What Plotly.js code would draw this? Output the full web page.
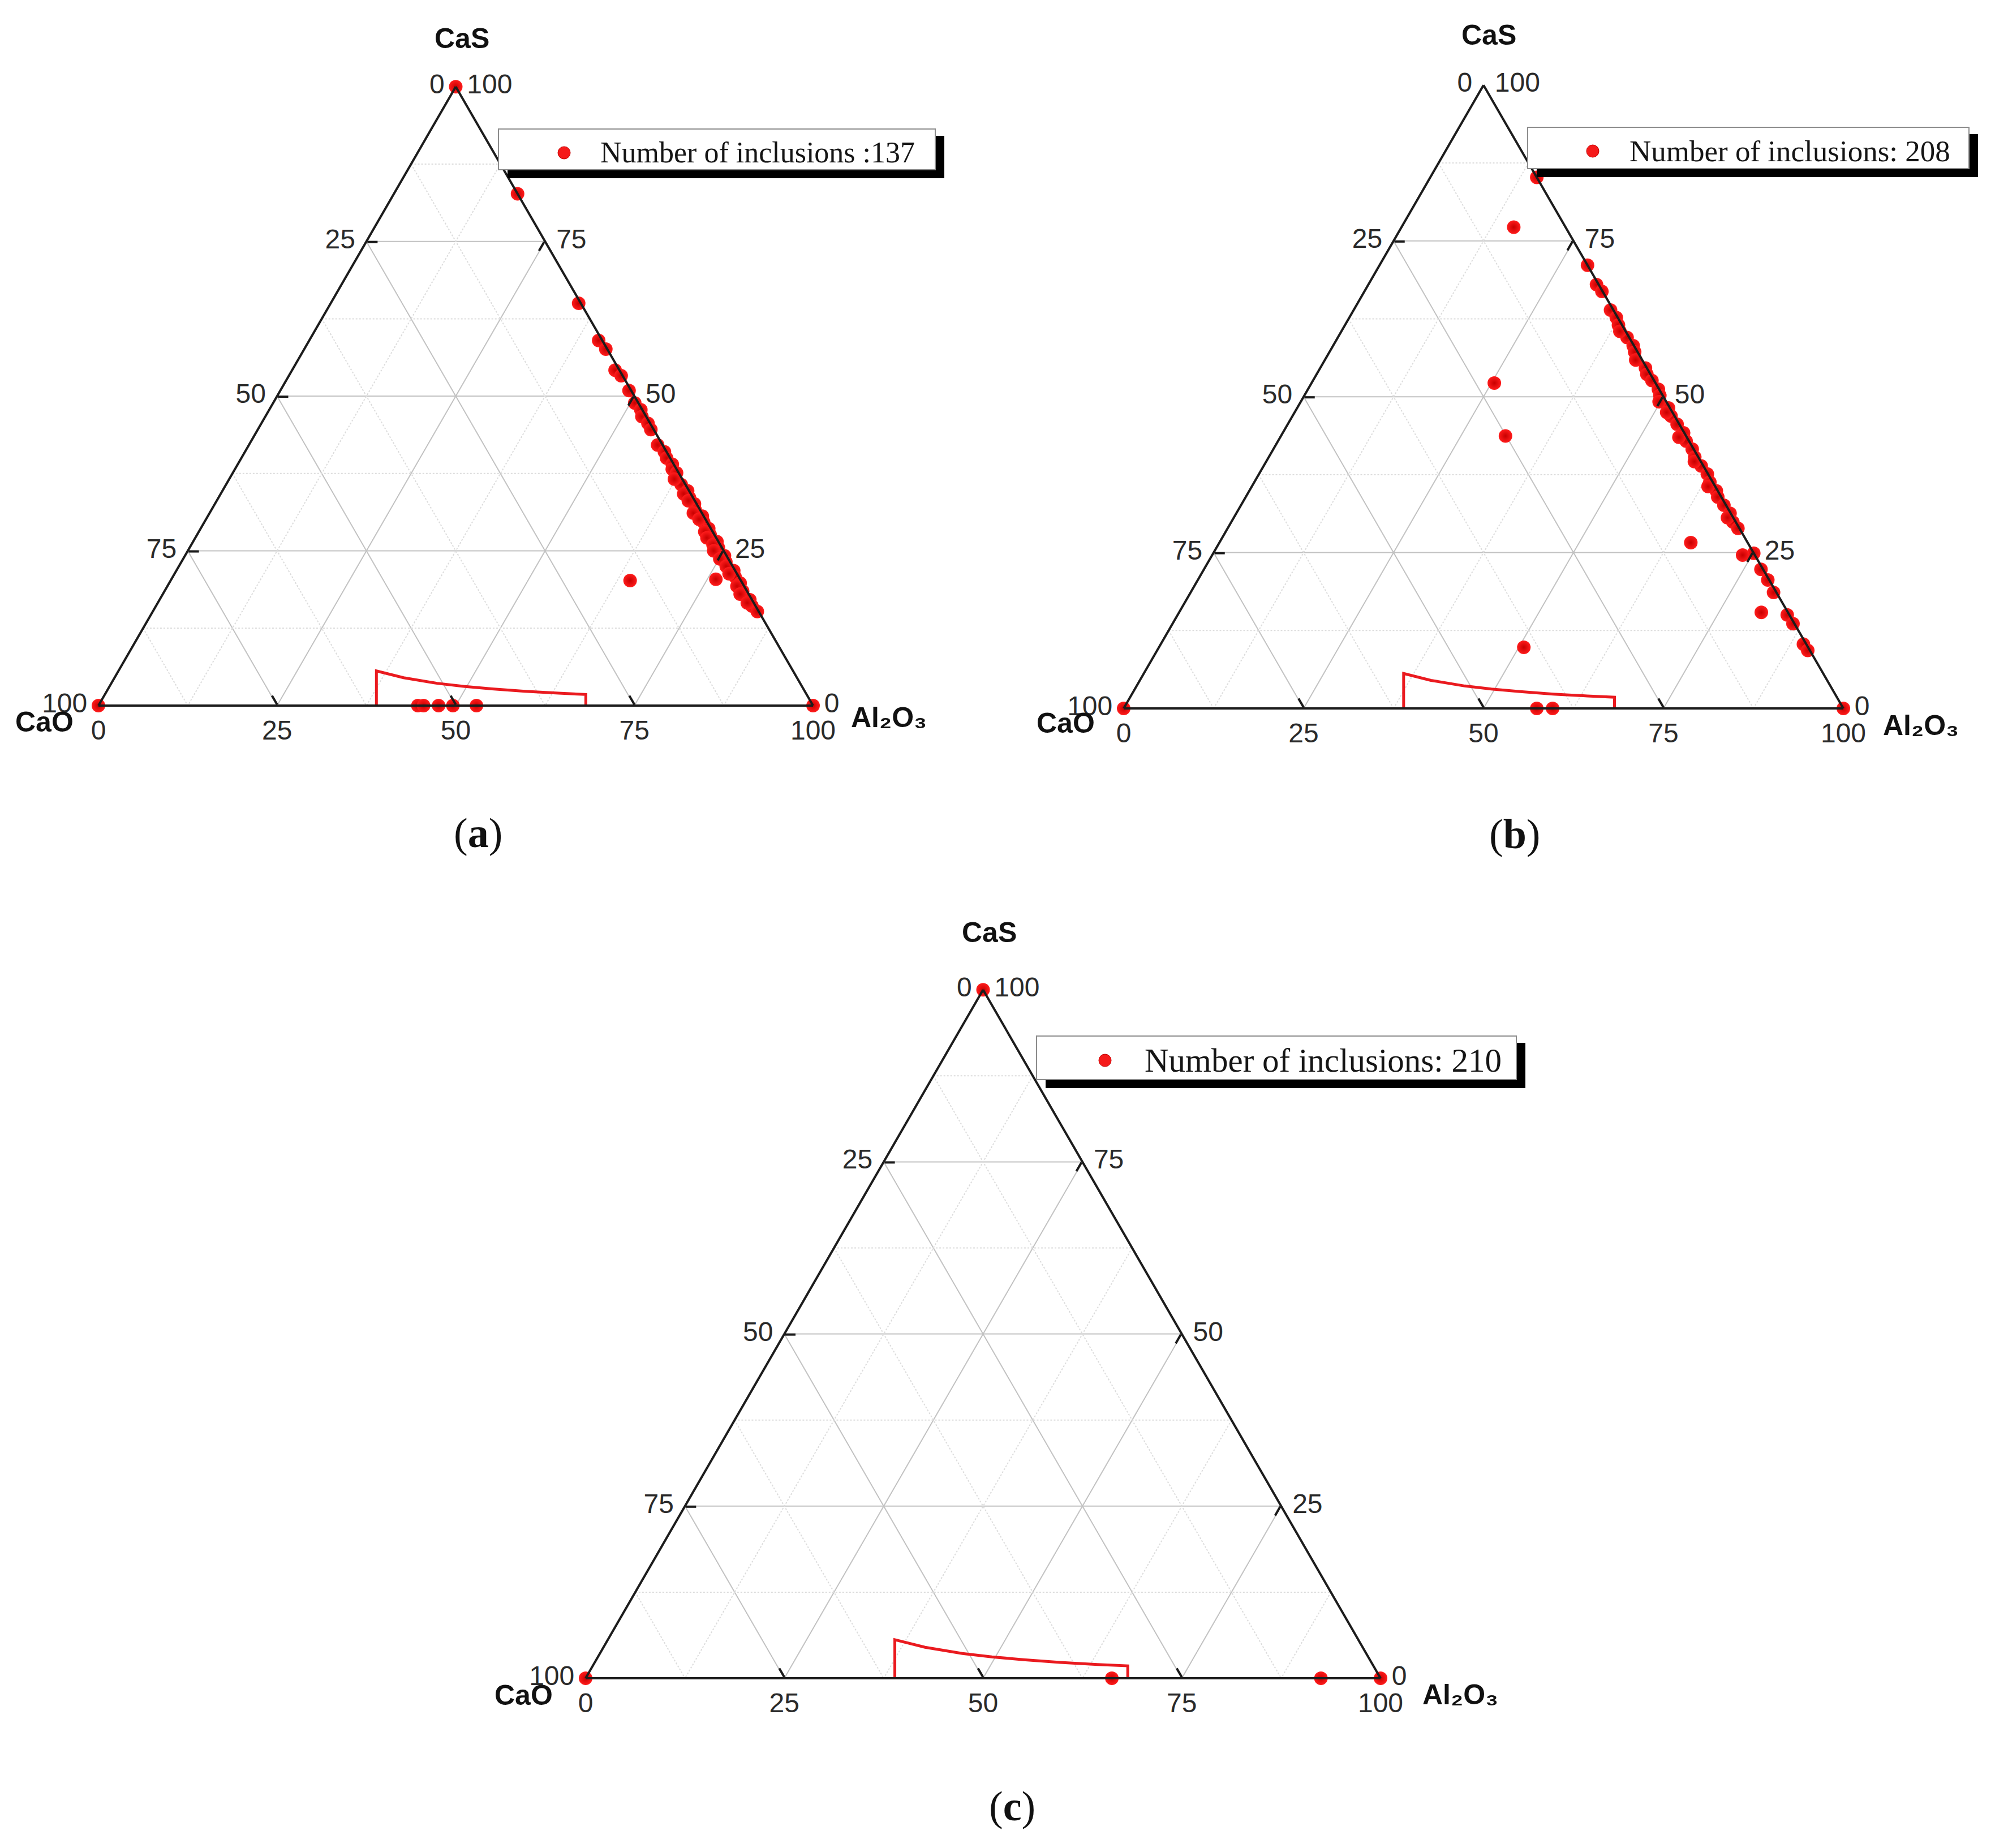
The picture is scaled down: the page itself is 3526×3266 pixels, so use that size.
<!DOCTYPE html>
<html>
<head>
<meta charset="utf-8">
<script src="https://cdn.plot.ly/plotly-3.0.1.min.js"></script>
<style>html,body{margin:0;padding:0;background:#fff;}</style>
</head>
<body>
<div id="chart" style="width:3526px;height:3266px;"></div>
<script>
// ---------------- DATA ----------------
// Axis tick positions and their printed labels (reference labels run the other way round each edge)
const tickVals = [0, 25, 50, 75, 100];
const tickText = ['100', '75', '50', '25', '0'];
const minorVals = [12.5, 37.5, 62.5, 87.5];

// Panel (a) inclusions, mass %
const aCaS   = [100, 0, 0, 82.7, 65.0, 59.0, 57.6, 54.2, 53.3, 50.9, 48.9, 47.8, 46.7, 45.6, 44.6, 42.1, 41.0, 40.0, 39.0, 38.2, 37.6, 35.7, 34.7, 33.6, 32.6, 31.6, 30.6, 29.6, 28.6, 27.6, 26.5, 25.5, 24.2, 23.2, 21.8, 20.8, 19.8, 18.5, 17.1, 16.1, 15.2, 36.6, 34.2, 33.1, 31.1, 30.1, 28.1, 27.1, 26.0, 25.0, 23.7, 22.5, 21.3, 19.3, 18.0, 16.6, 20.2, 20.4, 0, 0, 0, 0, 0];
const aCaO   = [0, 100, 0, 0, 0.3, 0.5, 0.2, 0.6, 0.2, 0.3, 0.5, 0.2, 0.6, 0.3, 0.4, 0.7, 0.3, 0.5, 0.2, 0.6, 0.3, 0.6, 0.2, 0.5, 0.3, 0.7, 0.2, 0.5, 0.3, 0.6, 0.2, 0.5, 0.3, 0.6, 0.2, 0.5, 0.3, 0.6, 0.3, 0.5, 0.2, 1.1, 1.0, 0.9, 1.2, 0.9, 1.1, 1.3, 1.0, 1.4, 1.2, 0.9, 1.1, 1.0, 1.2, 0.9, 15.5, 3.4, 55.3, 54.5, 52.4, 50.4, 47.1];
const aAl2O3 = [0, 0, 100, 17.3, 34.7, 40.5, 42.2, 45.2, 46.5, 48.8, 50.6, 52.0, 52.7, 54.1, 55.0, 57.2, 58.7, 59.5, 60.8, 61.2, 62.1, 63.7, 65.1, 65.9, 67.1, 67.7, 69.2, 69.9, 71.1, 71.8, 73.3, 74.0, 75.5, 76.2, 78.0, 78.7, 79.9, 80.9, 82.6, 83.4, 84.6, 62.3, 64.8, 66.0, 67.7, 69.0, 70.8, 71.6, 73.0, 73.6, 75.1, 76.6, 77.6, 79.7, 80.8, 82.5, 64.3, 76.2, 44.7, 45.5, 47.6, 49.6, 52.9];

// Panel (b)
const bCaS   = [0, 0, 85.2, 71.1, 68.0, 66.9, 63.9, 62.7, 61.5, 59.5, 58.2, 57.2, 54.6, 53.6, 52.6, 51.2, 50.2, 48.2, 46.9, 45.6, 44.2, 42.9, 41.6, 40.3, 38.9, 37.6, 36.3, 34.9, 33.9, 32.6, 31.3, 29.9, 28.9, 60.5, 55.9, 49.2, 47.5, 43.5, 39.6, 35.6, 30.6, 24.9, 22.3, 20.6, 18.6, 15.0, 13.6, 10.3, 9.3, 77.2, 52.2, 43.7, 26.6, 24.6, 15.4, 9.8, 0, 0];
const bCaO   = [100, 0, 0, 0, 0.3, 0.1, 0.4, 0.2, 0.5, 0.3, 0.1, 0.4, 0.2, 0.5, 0.3, 0.1, 0.4, 0.2, 0.5, 0.3, 0.1, 0.4, 0.2, 0.5, 0.3, 0.1, 0.4, 0.2, 0.5, 0.3, 0.1, 0.4, 0.2, 0.8, 0.9, 1.0, 0.8, 1.1, 0.9, 1.0, 0.8, 0, 0.3, 0.2, 0.4, 0.3, 0.2, 0.4, 0.3, 7.2, 22.4, 25.1, 7.9, 1.7, 3.7, 39.5, 42.6, 40.4];
const bAl2O3 = [0, 100, 14.8, 28.9, 31.7, 33.0, 35.7, 37.1, 38.0, 40.2, 41.7, 42.4, 45.2, 45.9, 47.1, 48.7, 49.4, 51.6, 52.6, 54.1, 55.7, 56.7, 58.2, 59.2, 60.8, 62.3, 63.3, 64.9, 65.6, 67.1, 68.6, 69.7, 70.9, 38.7, 43.2, 49.8, 51.7, 55.4, 59.5, 63.4, 68.6, 75.1, 77.4, 79.2, 81.0, 84.7, 86.2, 89.3, 90.4, 15.6, 25.4, 31.2, 65.5, 73.7, 80.9, 50.7, 57.4, 59.6];

// Panel (c)
const cCaS   = [100, 0, 0, 0, 0];
const cCaO   = [0, 100, 0, 33.8, 7.5];
const cAl2O3 = [0, 0, 100, 66.2, 92.5];

// Outlined region (same in all panels)
const regionCaS   = [0, 5.6, 4.5, 3.6, 3.1, 2.7, 2.3, 2.0, 1.8, 0];
const regionCaO   = [61.1, 58.3, 55.05, 50.8, 47.35, 43.55, 39.15, 34.6, 30.9, 31.8];
const regionAl2O3 = [38.9, 36.1, 40.45, 45.6, 49.55, 53.75, 58.55, 63.4, 67.3, 68.2];

const legendTexts = ['Number of inclusions :137', 'Number of inclusions: 208', 'Number of inclusions: 210'];
const vertexNames = ['CaS', 'CaO', 'Al₂O₃'];
const panelLabels = ['a', 'b', 'c'];

// ---------------- LAYOUT CONSTANTS (pixels) ----------------
const PW = 3526, PH = 3266;
const px = v => v / PW;
const py = v => 1 - v / PH;

const tri = [
  {x0: 174, x1: 1437, yb: 1247},
  {x0: 1986, x1: 3258, yb: 1252},
  {x0: 1035, x1: 2440, yb: 2966}
];
const legBox = [
  {x0: 881, x1: 1653, y0: 228, y1: 300, mx: 997, tx: 1059, ty: 270, fs: 52},
  {x0: 2700, x1: 3480, y0: 225, y1: 298, mx: 2815, tx: 2878, ty: 267, fs: 53},
  {x0: 1832, x1: 2680, y0: 1831, y1: 1908, mx: 1953, tx: 2021, ty: 1874, fs: 59}
];
const titlePos = [
  {cas: [816, 68], cao: [78, 1276], al: [1502, 1268]},
  {cas: [2631, 62], cao: [1884, 1278], al: [3326, 1282]},
  {cas: [1748, 1648], cao: [925, 2996], al: [2512, 2995]}
];
const labelPos = [[845, 1472], [2677, 1474], [1789, 3192]];

// ---------------- BUILD ----------------
const subplots = ['ternary', 'ternary2', 'ternary3'];
const series = [
  [aCaS, aCaO, aAl2O3],
  [bCaS, bCaO, bAl2O3],
  [cCaS, cCaO, cAl2O3]
];

function minorGrid() {
  const A = [], B = [], C = [];
  minorVals.forEach(v => {
    A.push(v, v, null); B.push(100 - v, 0, null); C.push(0, 100 - v, null);
    A.push(100 - v, 0, null); B.push(v, v, null); C.push(0, 100 - v, null);
    A.push(100 - v, 0, null); B.push(0, 100 - v, null); C.push(v, v, null);
  });
  return {A, B, C};
}

const traces = [];
subplots.forEach((sp, i) => {
  const g = minorGrid();
  traces.push({
    type: 'scatterternary', subplot: sp, mode: 'lines',
    a: g.A, b: g.B, c: g.C, connectgaps: false,
    line: {color: '#dcdcdc', width: 2, dash: 'dot'},
    hoverinfo: 'skip', showlegend: false
  });
  traces.push({
    type: 'scatterternary', subplot: sp, mode: 'lines',
    a: regionCaS, b: regionCaO, c: regionAl2O3,
    line: {color: '#ea1a1f', width: 5},
    hoverinfo: 'skip', showlegend: false
  });
  traces.push({
    type: 'scatterternary', subplot: sp, mode: 'markers',
    name: legendTexts[i], cliponaxis: false,
    a: series[i][0], b: series[i][1], c: series[i][2],
    marker: {size: 24, color: '#ff1c1c', line: {width: 0},
             gradient: {type: 'radial', color: '#c80000'}},
    showlegend: false
  });
});

function axisStyle(texts) {
  return {
    title: {text: ''},
    tickmode: 'array', tickvals: tickVals, ticktext: texts,
    ticks: 'inside', ticklen: 18, tickwidth: 4, tickcolor: '#1a1a1a',
    showline: true, linecolor: '#1c1c1c', linewidth: 4,
    showgrid: true, gridcolor: '#c2c2c2', gridwidth: 2,
    tickfont: {family: 'Liberation Sans, Arial, sans-serif', size: 48, color: '#2a2a2a'},
    layer: 'above traces'
  };
}
const leftTexts = tickText.map(s => s + '\u00a0');
const rightTexts = tickText.map(s => '\u00a0' + s);

const layout = {
  width: PW, height: PH,
  margin: {l: 0, r: 0, t: 0, b: 0, pad: 0},
  paper_bgcolor: '#ffffff',
  showlegend: false,
  shapes: [],
  annotations: []
};

subplots.forEach((sp, i) => {
  const t = tri[i];
  const W = t.x1 - t.x0;
  const H = W * Math.sqrt(3) / 2;
  layout[sp] = {
    sum: 100,
    domain: {x: [px(t.x0), px(t.x1)], y: [py(t.yb), py(t.yb - H)]},
    bgcolor: 'rgba(0,0,0,0)',
    aaxis: axisStyle(leftTexts),
    baxis: axisStyle(tickText),
    caxis: axisStyle(rightTexts)
  };

  const L = legBox[i];
  layout.shapes.push({type: 'rect', xref: 'paper', yref: 'paper', layer: 'above',
    x0: px(L.x0 + 16), x1: px(L.x1 + 16), y0: py(L.y1 + 15), y1: py(L.y0 + 12),
    fillcolor: '#000000', line: {width: 0}});
  layout.shapes.push({type: 'rect', xref: 'paper', yref: 'paper', layer: 'above',
    x0: px(L.x0), x1: px(L.x1), y0: py(L.y1), y1: py(L.y0),
    fillcolor: '#ffffff', line: {color: '#8c8c8c', width: 2}});
  layout.shapes.push({type: 'circle', xref: 'paper', yref: 'paper', layer: 'above',
    x0: px(L.mx - 11), x1: px(L.mx + 11), y0: py(L.ty + 11), y1: py(L.ty - 11),
    fillcolor: '#f51a1a', line: {color: '#c00000', width: 1}});
  layout.annotations.push({xref: 'paper', yref: 'paper', x: px(L.tx), y: py(L.ty),
    xanchor: 'left', yanchor: 'middle', showarrow: false, text: legendTexts[i],
    font: {family: 'Liberation Serif, Times New Roman, serif', size: L.fs, color: '#151515'}});

  const T = titlePos[i];
  const tf = {family: 'Liberation Sans, Arial, sans-serif', size: 50, color: '#111', weight: 'bold'};
  layout.annotations.push({xref: 'paper', yref: 'paper', x: px(T.cas[0]), y: py(T.cas[1]),
    xanchor: 'center', yanchor: 'middle', showarrow: false, text: vertexNames[0], font: tf});
  layout.annotations.push({xref: 'paper', yref: 'paper', x: px(T.cao[0]), y: py(T.cao[1]),
    xanchor: 'center', yanchor: 'middle', showarrow: false, text: vertexNames[1], font: tf});
  layout.annotations.push({xref: 'paper', yref: 'paper', x: px(T.al[0]), y: py(T.al[1]),
    xanchor: 'left', yanchor: 'middle', showarrow: false, text: vertexNames[2], font: tf});

  layout.annotations.push({xref: 'paper', yref: 'paper', x: px(labelPos[i][0]), y: py(labelPos[i][1]),
    xanchor: 'center', yanchor: 'middle', showarrow: false,
    text: '(<b>' + panelLabels[i] + '</b>)',
    font: {family: 'Liberation Serif, Times New Roman, serif', size: 74, color: '#111'}});
});

Plotly.newPlot('chart', traces, layout, {displayModeBar: false, staticPlot: true});
</script>
</body>
</html>
